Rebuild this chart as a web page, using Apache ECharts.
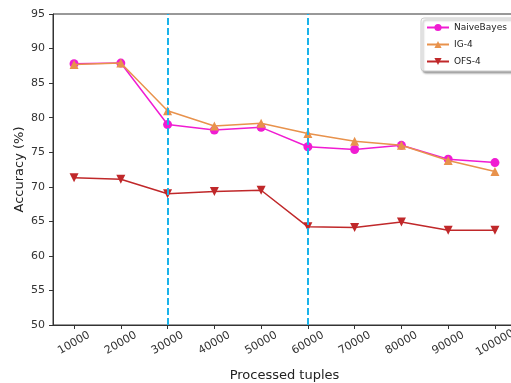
<!DOCTYPE html>
<html><head><meta charset="utf-8">
<script src="https://cdn.jsdelivr.net/npm/echarts@6/dist/echarts.min.js"></script>
<style>html,body{margin:0;padding:0;background:#fff}#c{width:511px;height:383px}</style>
</head><body><div id="c"></div>
<script>
var tuples = [10000,20000,30000,40000,50000,60000,70000,80000,90000,100000];
var naiveBayes = [87.8,87.9,79.0,78.2,78.6,75.8,75.4,76.0,74.0,73.5];
var ig4 = [87.7,87.9,81.0,78.8,79.2,77.7,76.6,76.0,73.8,72.2];
var ofs4 = [71.3,71.1,69.0,69.3,69.5,64.2,64.1,64.9,63.7,63.7];
var yTicks = [50,55,60,65,70,75,80,85,90,95];
var markers = [30000,60000];

function pairs(v){return tuples.map(function(x,i){return [x,v[i]];});}
var font = 'DejaVu Sans';
var chart = echarts.init(document.getElementById('c'), null, {renderer:'canvas'});
chart.setOption({
  animation:false,
  backgroundColor:'#fff',
  grid:{left:53,top:14,right:-5,bottom:58,containLabel:false,outerBoundsMode:'none',
        show:true,borderColor:'#333',borderWidth:1,backgroundColor:'transparent'},
  legend:{
    left:421, top:18, orient:'vertical', itemWidth:22, itemHeight:9, itemGap:8,
    padding:[5,8,5,5], z:20,
    backgroundColor:'#fff', borderColor:'#ccc', borderWidth:1, borderRadius:3,
    shadowColor:'rgba(0,0,0,0.35)', shadowBlur:2, shadowOffsetX:2, shadowOffsetY:2,
    textStyle:{fontFamily:font,fontSize:9,color:'#222',padding:[0,0,0,0]},
    data:['NaiveBayes','IG-4','OFS-4']
  },
  xAxis:{
    type:'value', min:5500, max:104500,
    name:'Processed tuples', nameLocation:'middle', nameGap:44, nameMoveOverlap:false,
    nameTextStyle:{fontFamily:font,fontSize:13,color:'#222'},
    axisLine:{show:true,lineStyle:{color:'#333',width:1}},
    axisTick:{show:true,length:4,lineStyle:{color:'#333'},customValues:tuples},
    axisLabel:{fontFamily:font,fontSize:11,color:'#333',rotate:30,margin:18,
      align:'center',verticalAlign:'middle',customValues:tuples,
      formatter:function(v){return String(v);}},
    splitLine:{show:false}
  },
  yAxis:{
    type:'value', min:50, max:95, interval:5,
    name:'Accuracy (%)', nameLocation:'middle', nameGap:27, nameRotate:90, nameMoveOverlap:false,
    nameTextStyle:{fontFamily:font,fontSize:13,color:'#222'},
    axisLine:{show:true,lineStyle:{color:'#333',width:1}},
    axisTick:{show:true,length:4,lineStyle:{color:'#333'}},
    axisLabel:{fontFamily:font,fontSize:11,color:'#333',margin:8,customValues:yTicks},
    splitLine:{show:false}
  },
  series:[
    {name:'NaiveBayes',type:'line',data:pairs(naiveBayes),symbol:'circle',symbolSize:9,
     itemStyle:{color:'#f01cd2'},lineStyle:{color:'#f01cd2',width:1.5},z:3},
    {name:'IG-4',type:'line',data:pairs(ig4),symbol:'triangle',symbolSize:9,
     itemStyle:{color:'#e8924c'},lineStyle:{color:'#e8924c',width:1.5},z:4},
    {name:'OFS-4',type:'line',data:pairs(ofs4),symbol:'triangle',symbolRotate:180,symbolSize:9,
     itemStyle:{color:'#c0282a'},lineStyle:{color:'#c0282a',width:1.5},z:4},
    {name:'markers',type:'line',data:[],z:10,
     markLine:{silent:true,symbol:'none',label:{show:false},z:10,
       lineStyle:{color:'#1ab3ea',width:2,type:[7,3]},
       data:markers.map(function(m){return {xAxis:m};})}}
  ]
});
</script></body></html>
